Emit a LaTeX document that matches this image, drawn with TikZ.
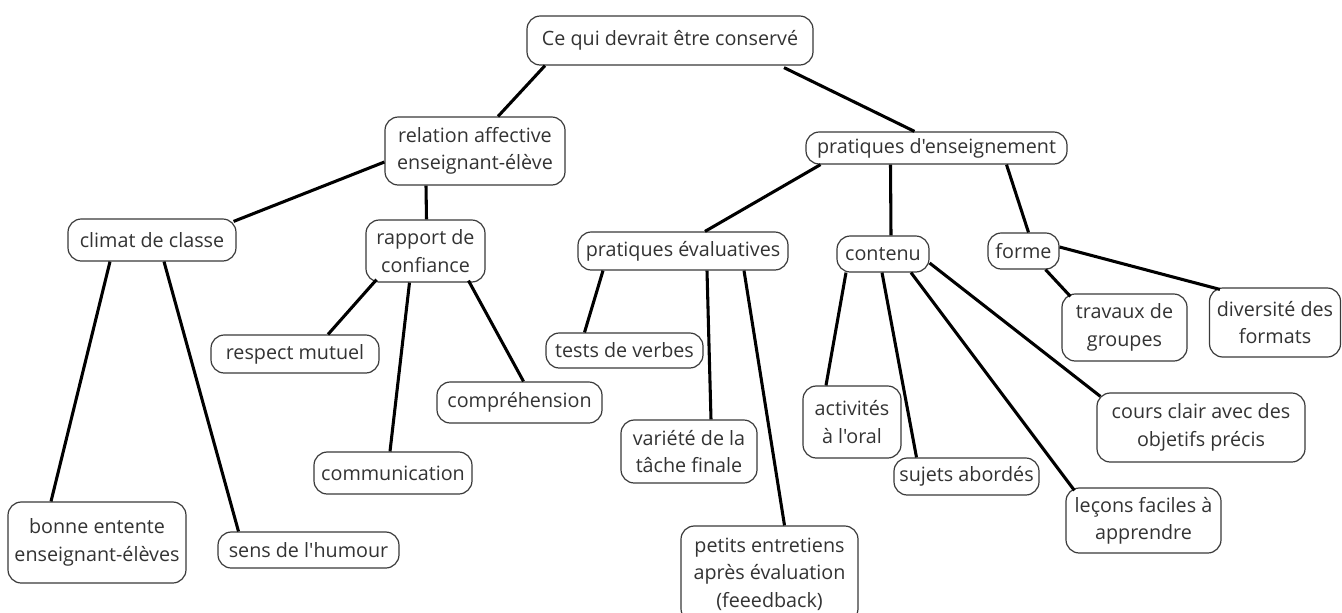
\documentclass[tikz,border=0pt]{standalone}
\usepackage{fontspec}
\setmainfont{Open Sans}[Ligatures=TeXOff]
\usetikzlibrary{calc}
\definecolor{txt}{HTML}{333333}
\definecolor{brd}{HTML}{3A3A3A}
\tikzset{
  box/.style={draw=brd, line width=0.9pt, rounded corners=10pt, align=center, inner sep=1pt,
    text=txt, font=\fontsize{14.8}{20.5}\selectfont},
  sz/.style 2 args={minimum width=#1*0.75pt, minimum height=#2*0.75pt},
  link/.style={line width=2.3pt, black}
}
\begin{document}
\begin{tikzpicture}[x=0.75pt, y=-0.75pt]
\useasboundingbox (0,0) rectangle (1342,612);
\clip (0,0) rectangle (1342,612);
\fill[white] (0,0) rectangle (1342,612);
% nodes
\node[box, sz={286}{49}] (root) at (670,40.5) {Ce qui devrait être conservé};
\node[box, sz={180}{68}] (rel) at (475,151) {relation affective\\enseignant-élève};
\node[box, sz={261}{32}] (prat) at (936.5,148) {pratiques d'enseignement};
\node[box, sz={168}{42}] (climat) at (152,240) {climat de classe};
\node[box, sz={119}{62}] (rapport) at (425.5,251) {rapport de\\confiance};
\node[box, sz={168}{38}] (respect) at (295,354) {respect mutuel};
\node[box, sz={165}{41}] (compr) at (519.5,402.5) {compréhension};
\node[box, sz={158}{42}] (comm) at (393,473) {communication};
\node[box, sz={178}{81}] (bonne) at (97,542.5) {bonne entente\\enseignant-élèves};
\node[box, sz={181}{36}] (sens) at (308.5,550) {sens de l'humour};
\node[box, sz={210}{38}] (pe) at (683,251) {pratiques évaluatives};
\node[box, sz={92}{36}] (contenu) at (883,254) {contenu};
\node[box, sz={71}{36}] (forme) at (1023.5,251) {forme};
\node[box, sz={157}{35}] (tests) at (624.5,350.5) {tests de verbes};
\node[box, sz={125}{67}] (travaux) at (1124.5,327.5) {travaux de\\groupes};
\node[box, sz={131}{69}] (divers) at (1275,322.5) {diversité des\\formats};
\node[box, sz={98}{72}] (act) at (852,422) {activités\\à l'oral};
\node[box, sz={136}{63}] (var) at (689,451.5) {variété de la\\tâche finale};
\node[box, sz={145}{37}] (sujets) at (966.5,476.5) {sujets abordés};
\node[box, sz={208}{69}] (cours) at (1201,427.5) {cours clair avec des\\objetifs précis};
\node[box, sz={155}{65}] (lecons) at (1143.5,520.5) {leçons faciles à\\apprendre};
\node[box, sz={177}{96}] (petits) at (769.5,574) {petits entretiens\\après évaluation\\(feeedback)};
% connectors
\draw[link] ($(root.south)+(-125,0)$) -- ($(rel.north)+(23,0)$);
\draw[link] ($(root.south)+(114,2)$) -- ($(prat.north)+(-22,0)$);
\draw[link] ($(rel.west)+(0,11)$) -- ($(climat.north east)+(-3,3)$);
\draw[link] ($(rel.south)+(-49,0)$) -- ($(rapport.north)+(1,0)$);
\draw[link] ($(prat.south)+(-116,0)$) -- ($(pe.north)+(22,0)$);
\draw[link] ($(prat.south)+(-46,0)$) -- ($(contenu.north)+(8,0)$);
\draw[link] ($(prat.south)+(70,0)$) -- ($(forme.north)+(5,0)$);
\draw[link] ($(climat.south)+(-42,0)$) -- ($(bonne.north)+(-46,0)$);
\draw[link] ($(climat.south)+(12,0)$) -- ($(sens.north)+(-70,0)$);
\draw[link] ($(rapport.south)+(-49,-3)$) -- ($(respect.north)+(33,0)$);
\draw[link] ($(rapport.south)+(-16,0)$) -- ($(comm.north)+(-3,0)$);
\draw[link] ($(rapport.south)+(43,-2)$) -- ($(compr.north)+(4,0)$);
\draw[link] ($(pe.south)+(-80,0)$) -- ($(tests.north)+(-40,0)$);
\draw[link] ($(pe.south)+(24,0)$) -- ($(var.north)+(22,0)$);
\draw[link] ($(pe.south)+(61,0)$) -- ($(petits.north)+(15,0)$);
\draw[link] ($(contenu.south)+(-37,0)$) -- ($(act.north)+(-26,0)$);
\draw[link] ($(contenu.south)+(-1,0)$) -- ($(sujets.north)+(-50,0)$);
\draw[link] ($(contenu.south)+(28,0)$) -- ($(lecons.north west)+(9,3)$);
\draw[link] ($(contenu.east)+(0,9)$) -- ($(cours.north west)+(4,4)$);
\draw[link] ($(forme.south)+(22,0)$) -- ($(travaux.north west)+(9,3)$);
\draw[link] ($(forme.east)+(0,-4)$) -- ($(divers.north west)+(11,2)$);
\end{tikzpicture}
\end{document}
